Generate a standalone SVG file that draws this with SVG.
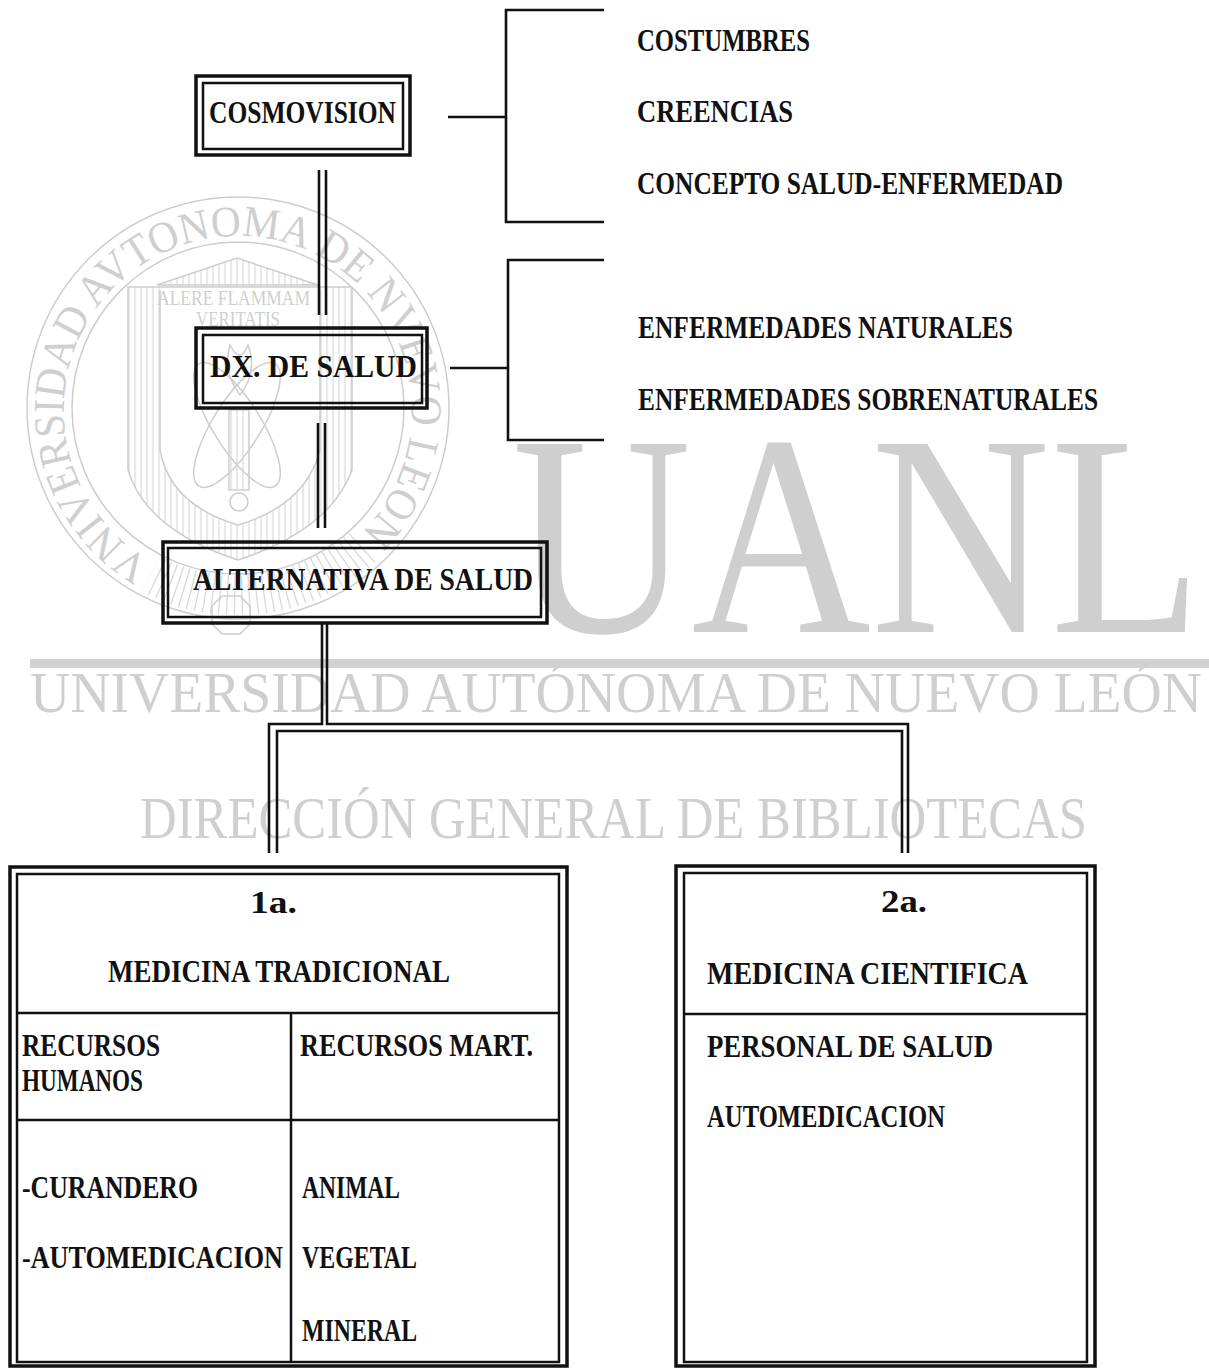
<svg xmlns="http://www.w3.org/2000/svg" width="1209" height="1368" viewBox="0 0 1209 1368">
  <style>
    .t { font-family: "Liberation Serif", "DejaVu Serif", serif; font-weight: bold; font-size: 32px; fill: #111; }
    .wm { font-family: "Liberation Serif", "DejaVu Serif", serif; fill: #cfcfcf; }
    .wl { fill: none; stroke: #cdcdcd; stroke-width: 1.5; }
    .ob { fill: none; stroke: #111; stroke-width: 3.5; }
    .ib { fill: none; stroke: #111; stroke-width: 2.5; }
    .ln { fill: none; stroke: #111; stroke-width: 2.6; }
  </style>
  <defs>
    <pattern id="vh" width="6" height="10" patternUnits="userSpaceOnUse">
      <line x1="3" y1="0" x2="3" y2="10" stroke="#d6d6d6" stroke-width="1.1"/>
    </pattern>
    <path id="ring" d="M151 561 A174 174 0 1 1 361 533"/>
  </defs>
  <rect width="1209" height="1368" fill="#fff"/>

  <!-- watermark -->
  <g id="watermark">
    <circle class="wl" cx="238" cy="408" r="211"/>
    <circle class="wl" cx="238" cy="408" r="166"/>
    <text class="wm" font-size="44"><textPath href="#ring" textLength="865" lengthAdjust="spacingAndGlyphs">VNIVERSIDAD AVTONOMA DE NVEVO LEON</textPath></text>
    <path d="M362 547 A185 185 0 0 1 151 574" fill="none" stroke="#d8d8d8" stroke-width="40" stroke-dasharray="1.3 6"/>
    <path d="M128 287 H352 V470 Q330 530 238 560 Q146 530 128 470 Z M160 287 V450 Q170 505 238 525 Q306 505 320 450 V287 Z" fill="url(#vh)" fill-rule="evenodd"/>
    <path class="wl" d="M128 287 H352 V470 Q330 530 238 560 Q146 530 128 470 Z"/>
    <path class="wl" d="M160 290 V450 Q170 505 238 525 Q306 505 320 450 V290"/>
    <path d="M157 285 L237 258 L318 285 Z" fill="url(#vh)" stroke="#cdcdcd" stroke-width="1.4"/>
    <text class="wm" x="157" y="305" font-size="22" textLength="153" lengthAdjust="spacingAndGlyphs">ALERE FLAMMAM</text>
    <text class="wm" x="196" y="326" font-size="20" textLength="84" lengthAdjust="spacingAndGlyphs">VERITATIS</text>
    <ellipse class="wl" cx="237" cy="425" rx="72" ry="24" transform="rotate(58 237 425)"/>
    <ellipse class="wl" cx="237" cy="425" rx="72" ry="24" transform="rotate(-58 237 425)"/>
    <path class="wl" d="M230 345 Q222 372 240 395 Q258 372 248 345 Q240 365 230 345 Z"/>
    <rect x="229" y="410" width="20" height="80" fill="url(#vh)" stroke="#cdcdcd" stroke-width="1.4"/>
    <circle class="wl" cx="239" cy="502" r="9"/>
    <path class="wl" d="M222 596 L240 596 L250 606 L250 624 L240 634 L222 634 L212 624 L212 606 Z"/>
    <text class="wm" x="512" y="632" font-size="287" textLength="690" lengthAdjust="spacingAndGlyphs">UANL</text>
    <rect x="30" y="659" width="1179" height="9" fill="#d2d2d2"/>
    <text class="wm" x="30" y="712" font-size="58" textLength="1172" lengthAdjust="spacingAndGlyphs">UNIVERSIDAD AUTÓNOMA DE NUEVO LEÓN</text>
    <text class="wm" x="140" y="838" font-size="59" textLength="947" lengthAdjust="spacingAndGlyphs">DIRECCIÓN GENERAL DE BIBLIOTECAS</text>
  </g>

  <!-- connectors -->
  <g id="connectors">
    <path class="ln" d="M448 117 H506"/>
    <path class="ln" d="M604 10 H506 V222 H604"/>
    <path class="ln" d="M450 368 H508"/>
    <path class="ln" d="M604 260 H508 V440 H604"/>
    <path class="ln" d="M319 170 V315 M326 170 V315"/>
    <path class="ln" d="M318 423 V528 M325 423 V528"/>
    <path class="ln" d="M322 623 V724 H269 V853"/>
    <path class="ln" d="M327 623 V724 H908 V853"/>
    <path class="ln" d="M277 853 V731 H902 V853"/>
  </g>

  <!-- nodes -->
  <g id="cosmovision">
    <rect class="ob" x="196" y="76" width="214" height="79"/>
    <rect class="ib" x="203" y="83" width="200" height="66"/>
    <text class="t" x="209" y="123" textLength="187" lengthAdjust="spacingAndGlyphs">COSMOVISION</text>
  </g>
  <g id="cosmovision-items">
    <text class="t" x="637" y="51" textLength="173" lengthAdjust="spacingAndGlyphs">COSTUMBRES</text>
    <text class="t" x="637" y="122" textLength="156" lengthAdjust="spacingAndGlyphs">CREENCIAS</text>
    <text class="t" x="637" y="194" textLength="426" lengthAdjust="spacingAndGlyphs">CONCEPTO SALUD-ENFERMEDAD</text>
  </g>
  <g id="dx-salud">
    <rect class="ob" x="196" y="328" width="231" height="80"/>
    <rect class="ib" x="203" y="335" width="219" height="68"/>
    <text class="t" x="210" y="377" textLength="207" lengthAdjust="spacingAndGlyphs">DX. DE SALUD</text>
  </g>
  <g id="dx-items">
    <text class="t" x="638" y="338" textLength="375" lengthAdjust="spacingAndGlyphs">ENFERMEDADES NATURALES</text>
    <text class="t" x="638" y="410" textLength="460" lengthAdjust="spacingAndGlyphs">ENFERMEDADES SOBRENATURALES</text>
  </g>
  <g id="alternativa">
    <rect class="ob" x="163" y="542" width="384" height="81"/>
    <rect class="ib" x="168" y="548" width="373" height="69"/>
    <text class="t" x="193" y="590" textLength="340" lengthAdjust="spacingAndGlyphs">ALTERNATIVA DE SALUD</text>
  </g>
  <g id="medicina-tradicional">
    <rect class="ob" x="10" y="867" width="557" height="499"/>
    <rect class="ib" x="17" y="874" width="542" height="488"/>
    <path class="ib" d="M17 1013 H559 M17 1120 H559 M291 1013 V1362"/>
    <text class="t" x="250" y="913" textLength="47" lengthAdjust="spacingAndGlyphs">1a.</text>
    <text class="t" x="108" y="982" textLength="342" lengthAdjust="spacingAndGlyphs">MEDICINA TRADICIONAL</text>
    <text class="t" x="22" y="1056" textLength="138" lengthAdjust="spacingAndGlyphs">RECURSOS</text>
    <text class="t" x="22" y="1091" textLength="121" lengthAdjust="spacingAndGlyphs">HUMANOS</text>
    <text class="t" x="300" y="1056" textLength="233" lengthAdjust="spacingAndGlyphs">RECURSOS MART.</text>
    <text class="t" x="22" y="1198" textLength="176" lengthAdjust="spacingAndGlyphs">-CURANDERO</text>
    <text class="t" x="22" y="1268" textLength="261" lengthAdjust="spacingAndGlyphs">-AUTOMEDICACION</text>
    <text class="t" x="302" y="1198" textLength="98" lengthAdjust="spacingAndGlyphs">ANIMAL</text>
    <text class="t" x="302" y="1268" textLength="115" lengthAdjust="spacingAndGlyphs">VEGETAL</text>
    <text class="t" x="302" y="1341" textLength="115" lengthAdjust="spacingAndGlyphs">MINERAL</text>
  </g>
  <g id="medicina-cientifica">
    <rect class="ob" x="676" y="866" width="419" height="500"/>
    <rect class="ib" x="684" y="873" width="403" height="489"/>
    <path class="ib" d="M684 1014 H1087"/>
    <text class="t" x="881" y="912" textLength="46" lengthAdjust="spacingAndGlyphs">2a.</text>
    <text class="t" x="707" y="984" textLength="321" lengthAdjust="spacingAndGlyphs">MEDICINA CIENTIFICA</text>
    <text class="t" x="707" y="1057" textLength="286" lengthAdjust="spacingAndGlyphs">PERSONAL DE SALUD</text>
    <text class="t" x="707" y="1127" textLength="238" lengthAdjust="spacingAndGlyphs">AUTOMEDICACION</text>
  </g>
</svg>
